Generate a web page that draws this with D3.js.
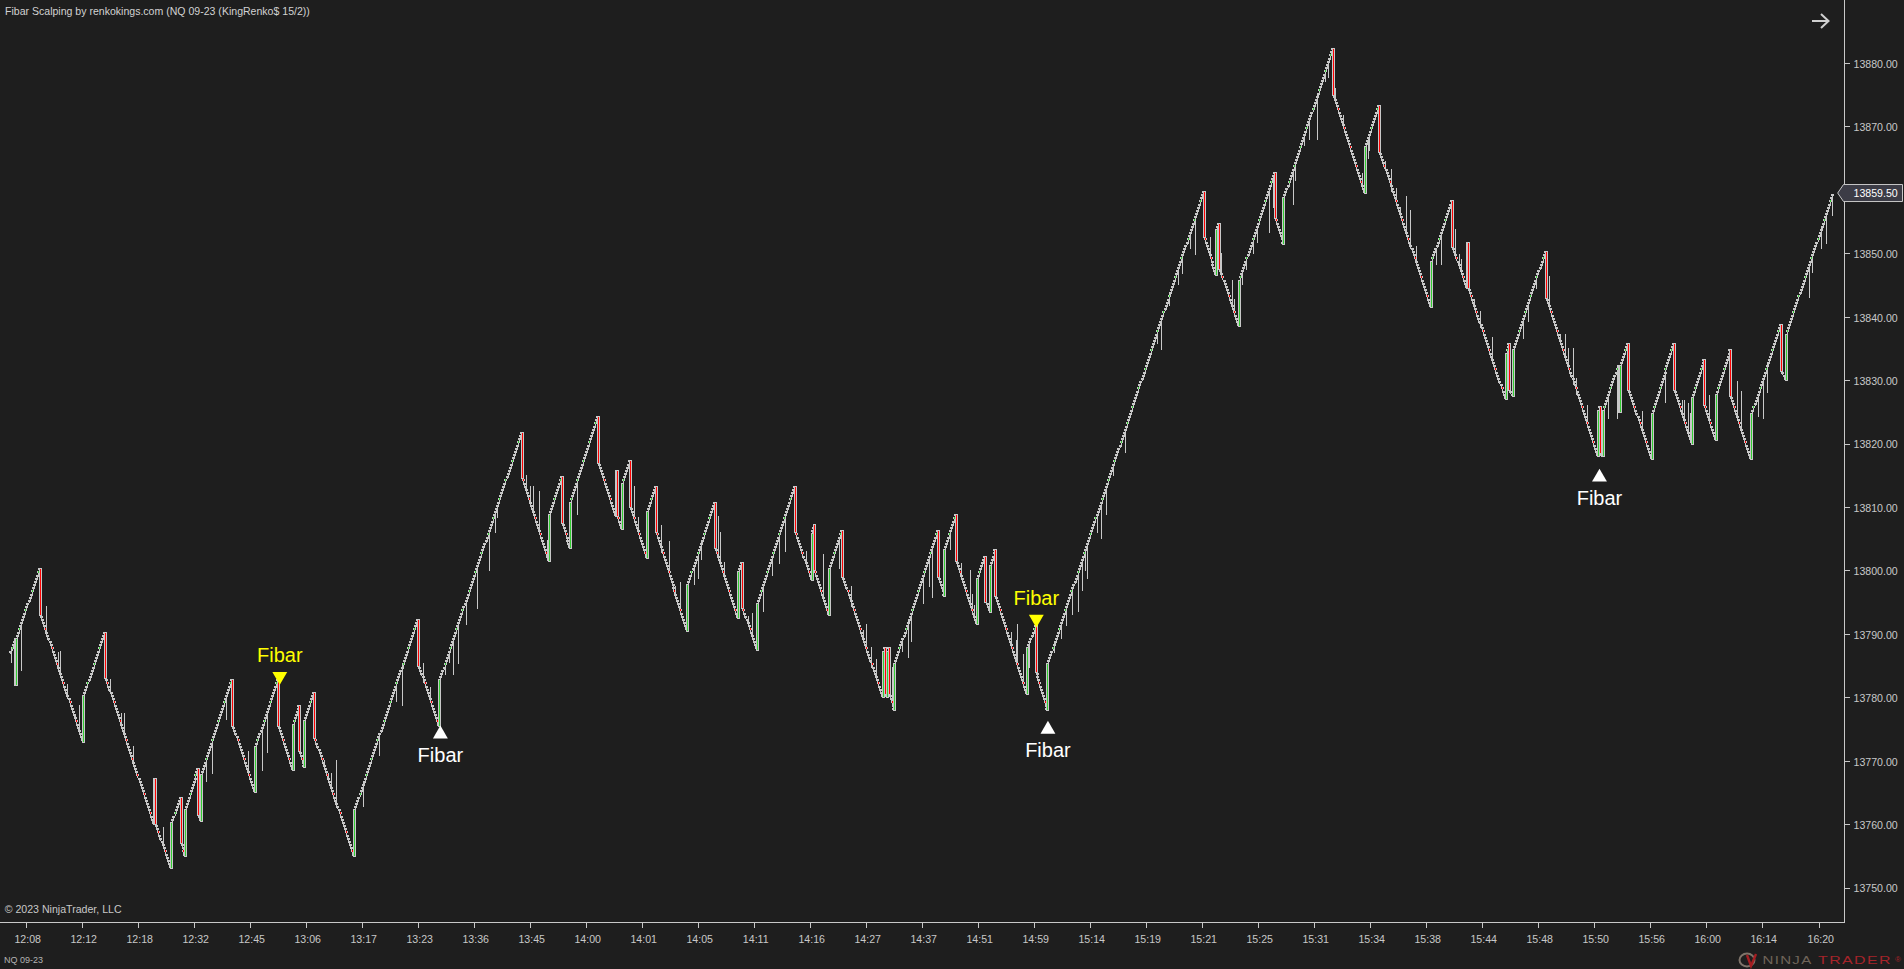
<!DOCTYPE html>
<html>
<head>
<meta charset="utf-8">
<script src="https://cdn.jsdelivr.net/npm/d3@7/dist/d3.min.js"></script>
<style>
html,body{margin:0;padding:0;background:#1e1e1e;overflow:hidden}
svg{display:block}
text{font-family:"Liberation Sans",Arial,sans-serif}
</style>
</head>
<body>
<svg id="c" width="1904" height="969"></svg>
<script>
// Renko swing extremes: start, then alternating high / low closes.
const swingPrices = [13787,13789.5,13782,13800.5,13773,13790.5,13760,13767.5,13753,13764.5,13755,13769,13760.5,13783,13765,13783,13768.5,13779,13769,13781,13755,13792.5,13775.5,13822,13801.5,13815,13803.5,13824.5,13808.5,13816,13806.5,13817.5,13802,13813.5,13790.5,13811,13792.5,13801.5,13787.5,13813.5,13798.5,13807.5,13793,13806.5,13780,13788,13780,13788,13778,13806.5,13796,13809,13791.5,13802.5,13793.5,13803.5,13780.5,13791.5,13778,13860,13846.5,13855,13838.5,13863,13851.5,13882.5,13859.5,13873.5,13841.5,13858.5,13844.5,13852,13827,13836,13827.5,13850.5,13818,13826,13818,13832.5,13825,13836,13817.5,13836,13820,13833.5,13820.5,13835,13817.5,13839,13830,13859.5];
// Where on the time axis each swing sits (bar number).
const swingBars = [0,5.4,6.3,29.1,70,90.9,137,137.9,153.3,162.5,166.3,178.9,181.1,211.1,232.8,254.6,268.8,274.5,279.2,288.7,326.5,387.1,407,485.5,511.1,522.8,531,557.4,573.9,575.4,580.2,587.7,603.3,611.8,641.7,668.2,690,693.7,707.9,743.9,759.4,761.9,776.1,788.4,826.9,828.8,831,832.9,837.6,879.2,884.9,896.3,916.1,923.7,928.4,933.2,963.5,971.4,982.4,1131,1142.1,1145.2,1164.1,1198.2,1205.8,1253.1,1283.4,1296.6,1345.8,1365.7,1379.6,1380.5,1416.3,1419.6,1422.9,1454.1,1503.9,1505.8,1508,1523.2,1524.7,1532.3,1554.5,1575.8,1592.9,1604.3,1615.6,1628.9,1648.8,1677.1,1681.3,1725.4];
const brickSize = 0.5;      // points per trend brick (KingRenko 15/2)
const reversalSize = 7.5;   // points per reversal bar

// Wicks: bar number and far end of the wick.
const wickBars = [2,11,35,46,48,55,62,66,95,106,109,117,145,186,192,205,226,239,244,298,302,304,309,335,350,366,372,392,398,412,416,420,425,432,443,454,460,462,489,493,496,501,509,537,591,595,617,624,630,635,648,652,655,671,673,676,699,703,713,722,728,734,754,770,785,797,808,811,816,820,835,845,851,853,865,870,873,890,901,909,911,913,948,953,954,959,965,989,995,1000,1006,1011,1015,1018,1020,1029,1033,1038,1045,1056,1086,1090,1098,1106,1110,1117,1122,1136,1147,1157,1159,1167,1170,1177,1181,1192,1196,1215,1217,1225,1230,1238,1245,1248,1255,1262,1280,1286,1287,1302,1308,1312,1316,1322,1326,1331,1339,1350,1355,1368,1372,1374,1386,1392,1403,1433,1437,1445,1457,1468,1472,1475,1480,1483,1493,1513,1522,1545,1567,1583,1585,1589,1591,1609,1635,1639,1655,1660,1664,1703,1706,1715,1719,1725];
const wickPrices = [13785.75,13784.5,13794.5,13787.25,13787.5,13782.25,13777.5,13779,13783,13777.75,13777.75,13772.5,13759.75,13767,13768.25,13776.75,13771.75,13768.75,13771.5,13770.25,13768.25,13768.25,13770.25,13763,13771,13779.5,13779,13785.5,13781.75,13783.75,13785.75,13783.75,13785.5,13791.75,13794.25,13800.25,13806.25,13808.5,13815.25,13813.5,13813.5,13812.75,13805,13809,13813.5,13808.5,13807.25,13804.75,13797.75,13798.25,13798,13799,13802,13808.75,13806.25,13801.5,13793,13793.5,13793.75,13799.5,13801.25,13803.25,13803.25,13802.75,13800.5,13797.75,13790.75,13791.75,13788,13786.25,13785,13787.5,13786.5,13789,13795,13797.75,13796,13803.5,13801.25,13800.25,13796.5,13794.75,13790.5,13789.25,13791.75,13787,13785,13787.25,13789.5,13791.5,13793.25,13793.75,13797,13800.25,13799,13806.25,13805.25,13809,13815.25,13818.75,13836,13835,13842,13845.25,13847,13851,13850,13852.75,13850.25,13846,13843,13845.25,13847.75,13850.25,13852,13853.5,13857.5,13858,13861.75,13867.25,13868.25,13868.25,13877.25,13878,13876.25,13872,13862.75,13865.25,13866.5,13864.75,13863.5,13860.5,13857.5,13859.25,13857,13851.25,13845,13848.5,13848.5,13854,13850,13849.25,13843,13841,13837,13836.75,13839.5,13844.75,13846.5,13837.5,13837.5,13835.25,13835.25,13830.5,13826.25,13824.25,13824.25,13825.25,13826.75,13827,13827,13826.5,13825,13827.75,13830,13828.5,13824.5,13824.25,13828.25,13843.25,13847.25,13851,13851.75,13856.25];

const timeLabels = ["12:08","12:12","12:18","12:32","12:45","13:06","13:17","13:23","13:36","13:45","14:00","14:01","14:05","14:11","14:16","14:27","14:37","14:51","14:59","15:14","15:19","15:21","15:25","15:31","15:34","15:38","15:44","15:48","15:50","15:56","16:00","16:14","16:20"];
const timeBars = [16,69,122,175,228,281,334,387,440,493,546,599,652,705,758,811,864,917,970,1023,1076,1129,1182,1235,1288,1341,1394,1447,1500,1553,1606,1659,1713];
const priceTicks = [13750,13760,13770,13780,13790,13800,13810,13820,13830,13840,13850,13870,13880];

const markerBars = [256,408,972,983,1505];
const markerPrices = [13783,13774.5,13792,13775.25,13815];
const markerDirs = ["down","up","down","up","up"];
const lastPrice = 13859.5;

const titleText = "Fibar Scalping by renkokings.com (NQ 09-23 (KingRenko$ 15/2))";
const copyrightText = "\u00A9 2023 NinjaTrader, LLC";
const instrumentText = "NQ 09-23";

// Rebuild the Renko series: a reversal bar at each swing, then trend bricks to the next swing.
const bars = [];
for (let k = 0; k < swingPrices.length - 1; k++) {
  const from = swingPrices[k], to = swingPrices[k + 1], dir = to > from ? 1 : -1;
  let last = from;
  if (k > 0) { bars.push({at: swingBars[k], open: last, close: last + dir * reversalSize, rev: true}); last += dir * reversalSize; }
  const n = Math.round(Math.abs(to - last) / brickSize);
  const final = k === swingPrices.length - 2;
  const gap = (swingBars[k + 1] - swingBars[k]) / (final || k === 0 ? n : n + 1);
  for (let j = 1; j <= n; j++) {
    bars.push({at: swingBars[k] + j * gap, open: last, close: last + dir * brickSize, rev: false});
    last += dir * brickSize;
  }
}

const W = 1904, H = 969, axisX = 1844.5, axisY = 922.5;
const BG = "#1e1e1e", GREY = "#c8c8c8", RED = "#ff0000", GREEN = "#32cd32", YELLOW = "#ffff00";

const x = d3.scaleLinear().domain([0, 1713]).range([9.3, 9.3 + 1713 * 1.0566]);
const y = d3.scaleLinear().domain([13750, 13880]).range([887.5, 63]);
const px = i => Math.round(x(i));
const py = p => Math.round(y(p)) + 1;

const svg = d3.select("#c");
svg.append("rect").attr("width", W).attr("height", H).attr("fill", BG);

// Wicks
const bis = d3.bisector(d => d.at).center;
const wickData = wickBars.map((b, n) => ({b, p: wickPrices[n], c: bars[bis(bars, b)].close}));
svg.append("g").attr("shape-rendering", "crispEdges").selectAll("rect")
  .data(wickData).join("rect")
  .attr("x", d => px(d.b))
  .attr("width", 1)
  .attr("y", d => Math.min(py(d.p), py(d.c)))
  .attr("height", d => Math.abs(py(d.p) - py(d.c)) + 1)
  .attr("fill", GREY);

// Bars: trend bricks first, then the reversal bars in time order so a later one covers an earlier one.
const gBars = svg.append("g").attr("shape-rendering", "crispEdges");
const trend = bars.filter(d => !d.rev);
const color = d => d.close > d.open ? GREEN : RED;
gBars.selectAll("rect.b").data(trend).join("rect").attr("class", "b")
  .attr("x", d => px(d.at) - 1)
  .attr("width", 3)
  .attr("y", d => Math.min(py(d.open), py(d.close)))
  .attr("height", 2)
  .attr("fill", GREY);
// Centre column linking each brick to the next, leaving the stair notches at the sides.
gBars.selectAll("rect.l").data(trend).join("rect").attr("class", "l")
  .attr("x", d => px(d.at))
  .attr("width", 1)
  .attr("y", d => Math.min(py(d.open), py(d.close)))
  .attr("height", d => Math.abs(py(d.open) - py(d.close)))
  .attr("fill", GREY);
gBars.selectAll("rect.d").data(trend.filter(d => Math.abs(py(d.open) - py(d.close)) === 4)).join("rect").attr("class", "d")
  .attr("x", d => px(d.at))
  .attr("width", 1)
  .attr("y", d => Math.min(py(d.open), py(d.close)))
  .attr("height", 2)
  .attr("fill", color);
const rev = gBars.selectAll("g.r").data(bars.filter(d => d.rev)).join("g").attr("class", "r");
rev.append("rect")
  .attr("x", d => px(d.at) - 1)
  .attr("width", 3)
  .attr("y", d => Math.min(py(d.open), py(d.close)))
  .attr("height", d => Math.abs(py(d.open) - py(d.close)))
  .attr("fill", GREY);
rev.append("rect")
  .attr("x", d => px(d.at))
  .attr("width", 1)
  .attr("y", d => Math.min(py(d.open), py(d.close)) + 1)
  .attr("height", d => Math.abs(py(d.open) - py(d.close)) - 2)
  .attr("fill", color);

// Axes
const axisStyle = g => {
  g.select(".domain").remove();
  g.selectAll(".tick line").attr("stroke", GREY).attr("shape-rendering", "crispEdges");
  g.selectAll(".tick text").attr("fill", "#c8c8c8").style("font-size", "10.6px").style("font-family", '"Liberation Sans",Arial,sans-serif');
};
svg.append("g").attr("transform", `translate(0,${axisY})`)
  .call(d3.axisBottom(x).tickValues(timeBars).tickFormat((d, i) => timeLabels[i]).tickSize(5).tickPadding(8))
  .call(axisStyle).selectAll(".tick text").attr("dx", 1);
svg.append("g").attr("transform", `translate(${axisX},0)`)
  .call(d3.axisRight(y).tickValues(priceTicks).tickFormat(d3.format(".2f")).tickSize(5).tickPadding(4))
  .call(axisStyle).selectAll(".tick text").attr("dy", "0.42em");
svg.append("line").attr("x1", 0).attr("x2", axisX + .5).attr("y1", axisY).attr("y2", axisY).attr("stroke", GREY).attr("shape-rendering", "crispEdges");
svg.append("line").attr("x1", axisX).attr("x2", axisX).attr("y1", 0).attr("y2", axisY).attr("stroke", GREY).attr("shape-rendering", "crispEdges");

// Fibar markers
const tri = d3.symbol(d3.symbolTriangle, 96);
const gM = svg.append("g");
markerBars.forEach((b, n) => {
  const down = markerDirs[n] === "down", c = down ? YELLOW : "#ffffff";
  gM.append("path").attr("d", tri())
    .attr("transform", `translate(${x(b)},${y(markerPrices[n]) + (down ? -2 : 2)}) rotate(${down ? 180 : 0})`)
    .attr("fill", c);
  gM.append("text").text("Fibar").attr("x", x(b)).attr("y", y(markerPrices[n]) + (down ? -16 : 29.5))
    .attr("text-anchor", "middle").attr("fill", c).style("font-size", "20px");
});

// Last price flag
const yl = y(lastPrice);
svg.append("path")
  .attr("d", `M1837.7,${yl}L1843.5,${yl - 8.5}H1902.5V${yl + 8.5}H1843.5Z`)
  .attr("fill", "#3c3c46").attr("stroke", GREY);
svg.append("text").text(d3.format(".2f")(lastPrice)).attr("x", 1853.5).attr("y", yl + 4)
  .attr("fill", "#ffffff").style("font-size", "10.6px");

// Captions
svg.append("text").text(titleText).attr("x", 5).attr("y", 15).attr("fill", "#d2d2d2").style("font-size", "10.55px");
svg.append("text").text(copyrightText).attr("x", 4.7).attr("y", 913).attr("fill", "#c8c8c8").style("font-size", "10.6px");
svg.append("text").text(instrumentText).attr("x", 4).attr("y", 963).attr("fill", "#b4b4b4").style("font-size", "9px");

// Arrow, top right
svg.append("path").attr("d", "M1812,21H1829M1821,14L1828.5,21L1821,28")
  .attr("fill", "none").attr("stroke", "#d0d0d0").attr("stroke-width", 2);

// NinjaTrader mark
const logo = svg.append("g");
logo.append("ellipse").attr("cx", 1747).attr("cy", 960).attr("rx", 7.5).attr("ry", 6.5).attr("fill", "none").attr("stroke", "#7f746a").attr("stroke-width", 2);
logo.append("path").attr("d", "M1747,955L1751,966L1756,954").attr("fill", "none").attr("stroke", "#a51e22").attr("stroke-width", 2.4);
logo.append("text").text("NINJA").attr("x", 1762.5).attr("y", 964).attr("fill", "#6f6459").style("font-size", "11.5px").style("letter-spacing", "1px").attr("textLength", 50).attr("lengthAdjust", "spacingAndGlyphs");
logo.append("text").text("TRADER").attr("x", 1818).attr("y", 964).attr("fill", "#a5242a").style("font-size", "11.5px").style("letter-spacing", "1px").attr("textLength", 74).attr("lengthAdjust", "spacingAndGlyphs");
logo.append("text").text("\u00AE").attr("x", 1895).attr("y", 962).attr("fill", "#a5242a").style("font-size", "8px");
</script>
</body>
</html>
